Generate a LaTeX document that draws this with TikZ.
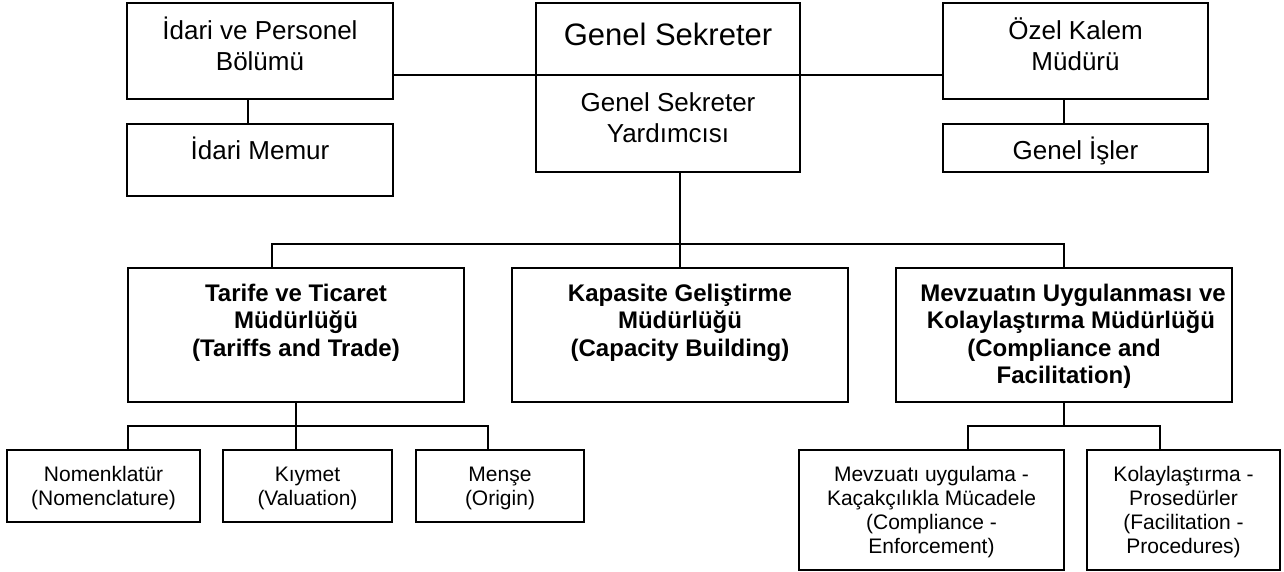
\documentclass[tikz,border=0pt]{standalone}
\usepackage{fontspec}
\setmainfont{Liberation Sans}
\usetikzlibrary{calc}
\begin{document}
\begin{tikzpicture}[x=1pt,y=-1pt,
  box/.style={draw,line width=1.7pt,rectangle,inner sep=0pt,outer sep=0pt},
  conn/.style={line width=1.7pt},
  tbig/.style={inner sep=0pt,align=center,anchor=base,font=\fontsize{31}{36}\selectfont},
  tmid/.style={inner sep=0pt,align=center,anchor=base,font=\fontsize{26}{30.5}\selectfont},
  tbold/.style={inner sep=0pt,align=center,anchor=base,font=\fontsize{24}{27.5}\selectfont\bfseries},
  tsmall/.style={inner sep=0pt,align=center,anchor=base,font=\fontsize{21}{24}\selectfont}]
\useasboundingbox (0,0) rectangle (1284,571);
% boxes: center, width, height
\node[box,minimum width=266pt,minimum height=96pt] (idari) at (260,51) {};
\node[box,minimum width=266pt,minimum height=72pt] (memur) at (260,160) {};
\node[box,minimum width=264pt,minimum height=72pt] (gs) at (668,39) {};
\node[box,minimum width=264pt,minimum height=97pt] (gsy) at (668,123.5) {};
\node[box,minimum width=265pt,minimum height=96pt] (ozel) at (1075.5,51) {};
\node[box,minimum width=265pt,minimum height=48pt] (isler) at (1075.5,148) {};
\node[box,minimum width=336pt,minimum height=134pt] (tarife) at (296,335) {};
\node[box,minimum width=336pt,minimum height=134pt] (kapasite) at (680,335) {};
\node[box,minimum width=336pt,minimum height=134pt] (mevzuat) at (1064,335) {};
\node[box,minimum width=193pt,minimum height=72pt] (nomen) at (103.5,486) {};
\node[box,minimum width=169pt,minimum height=72pt] (kiymet) at (307.5,486) {};
\node[box,minimum width=168pt,minimum height=72pt] (mense) at (500,486) {};
\node[box,minimum width=265pt,minimum height=120pt] (mevuyg) at (931.5,510) {};
\node[box,minimum width=193pt,minimum height=120pt] (kolay) at (1183.5,510) {};
% texts (multi-line nodes: base = last line's baseline)
\node[tmid] (idari-t) at ($(idari.north)+(0,67)$) {İdari ve Personel\\Bölümü};
\node[tmid] (memur-t) at ($(memur.north)+(0,35)$) {İdari Memur};
\node[tbig] (gs-t) at ($(gs.north)+(0,42)$) {Genel Sekreter};
\node[tmid] (gsy-t) at ($(gsy.north)+(0,67)$) {Genel Sekreter\\Yardımcısı};
\node[tmid] (ozel-t) at ($(ozel.north)+(0,67)$) {Özel Kalem\\Müdürü};
\node[tmid] (isler-t) at ($(isler.north)+(0,35)$) {Genel İşler};
\node[tbold] (tarife-t) at ($(tarife.north)+(0,88)$) {Tarife ve Ticaret\\Müdürlüğü\\(Tariffs and Trade)};
\node[tbold] (kapasite-t) at ($(kapasite.north)+(0,88)$) {Kapasite Geliştirme\\Müdürlüğü\\(Capacity Building)};
\node[tbold] (mevzuat-t) at ($(mevzuat.north)+(0,115.5)$) {\hspace*{18pt}Mevzuatın Uygulanması ve\\\hspace*{14pt}Kolaylaştırma Müdürlüğü\\(Compliance and\\Facilitation)};
\node[tsmall] (nomen-t) at ($(nomen.north)+(0,55.5)$) {Nomenklatür\\(Nomenclature)};
\node[tsmall] (kiymet-t) at ($(kiymet.north)+(0,55.5)$) {Kıymet\\(Valuation)};
\node[tsmall] (mense-t) at ($(mense.north)+(0,55.5)$) {Menşe\\(Origin)};
\node[tsmall] (mevuyg-t) at ($(mevuyg.north)+(0,103.5)$) {Mevzuatı uygulama -\\Kaçakçılıkla Mücadele\\(Compliance -\\Enforcement)};
\node[tsmall] (kolay-t) at ($(kolay.north)+(0,103.5)$) {Kolaylaştırma -\\Prosedürler\\(Facilitation -\\Procedures)};
% connector anchor points
\coordinate (bus) at (0,244);
\coordinate (subl) at (0,426);
\coordinate (idc) at ([xshift=-12pt]idari.south);
\coordinate (ozc) at ([xshift=-11.5pt]ozel.south);
\coordinate (gsyc) at ([xshift=12pt]gsy.south);
\coordinate (tarc) at ([xshift=-24pt]tarife.north);
\coordinate (nomc) at ([xshift=24.5pt]nomen.north);
\coordinate (kiyc) at ([xshift=-11.5pt]kiymet.north);
\coordinate (menc) at ([xshift=-12pt]mense.north);
\coordinate (mvuc) at ([xshift=36.5pt]mevuyg.north);
\coordinate (kolc) at ([xshift=-23.5pt]kolay.north);
% connectors
\draw[conn] (idari.east |- gs.south) -- (ozel.west |- gs.south);
\draw[conn] (idc) -- (idc |- memur.north);
\draw[conn] (ozc) -- (ozc |- isler.north);
\draw[conn] (gsyc) -- (gsyc |- bus);
\draw[conn] (tarc) -- (tarc |- bus) -- (mevzuat.north |- bus) -- (mevzuat.north);
\draw[conn] (kapasite.north) -- (kapasite.north |- bus);
\draw[conn] (tarife.south) -- (tarife.south |- subl);
\draw[conn] (nomc) -- (nomc |- subl) -- (menc |- subl) -- (menc);
\draw[conn] (kiyc) -- (kiyc |- subl);
\draw[conn] (mevzuat.south) -- (mevzuat.south |- subl);
\draw[conn] (mvuc) -- (mvuc |- subl) -- (kolc |- subl) -- (kolc);
\end{tikzpicture}
\end{document}
